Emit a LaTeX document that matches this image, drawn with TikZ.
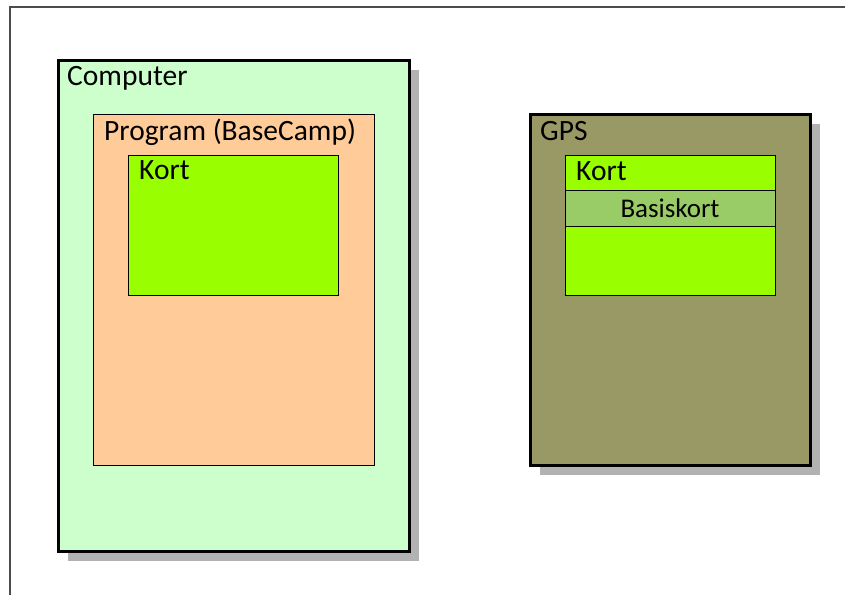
\documentclass[tikz,border=0pt]{standalone}
\usepackage{fontspec}
\setmainfont{Carlito}
\usetikzlibrary{shadows}

\definecolor{pcfill}{HTML}{CCFFCC}
\definecolor{progfill}{HTML}{FFCC99}
\definecolor{kortfill}{HTML}{99FF00}
\definecolor{gpsfill}{HTML}{999966}
\definecolor{basisfill}{HTML}{99CC66}

\tikzset{
    outerbox/.style={draw, line width=3pt, drop shadow={shadow xshift=10pt, shadow yshift=-10pt, fill=black!30, opacity=1}},
    innerbox/.style={draw, line width=0.9pt},
    boxlabel/.style={anchor=west, font=\fontsize{29.5}{33}\selectfont, inner sep=0pt}
}

\begin{document}
\begin{tikzpicture}[x=1pt, y=-1pt]
        \useasboundingbox (0,0) rectangle (845,595);
        \draw[black!70, line width=1.5pt] (10,595) -- (10,7) -- (845,7);

        \node[outerbox, fill=pcfill, minimum width=351pt, minimum height=491pt] (computer) at (233.5,305.5) {};
        \node[innerbox, fill=progfill, minimum width=281pt, minimum height=351pt] (program) at (233.5,289.5) {};
        \node[innerbox, fill=kortfill, minimum width=210pt, minimum height=140pt] (pckort) at (233,225) {};

        \node[outerbox, fill=gpsfill, minimum width=280pt, minimum height=351pt] (gps) at (670,289.5) {};
        \node[innerbox, fill=kortfill, minimum width=210pt, minimum height=140pt] (gpskort) at (670,225) {};
        \node[innerbox, fill=basisfill, minimum width=210pt, minimum height=36pt, font=\fontsize{27}{30}\selectfont] (basis) at (670,208) {Basiskort};

        \node[boxlabel] (computerlbl) at (67,78) {Computer};
        \node[boxlabel] (programlbl) at (104,132) {Program (BaseCamp)};
        \node[boxlabel] (pckortlbl) at (139,170) {Kort};
        \node[boxlabel] (gpslbl) at (540,131) {GPS};
        \node[boxlabel] (gpskortlbl) at (576,171) {Kort};
    \end{tikzpicture}
\end{document}
